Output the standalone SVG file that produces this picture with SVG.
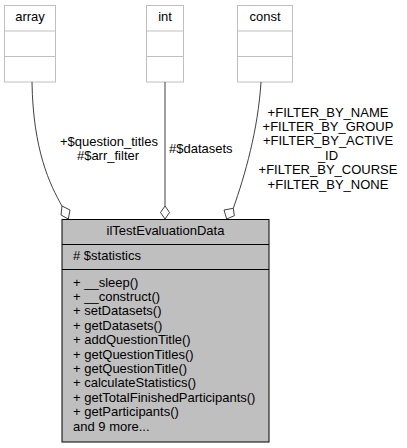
<svg xmlns="http://www.w3.org/2000/svg" width="407" height="448" viewBox="0 0 407 448">
<style>
text{font-family:"Liberation Sans",Arial,Helvetica,sans-serif;font-size:13px;fill:#000}
.m{text-anchor:middle}
.small{fill:#fff;stroke:#bfbfbf;stroke-width:1}
.main{fill:#bfbfbf;stroke:#000;stroke-width:1}
.sep{stroke:#bfbfbf;stroke-width:1}
.msep{stroke:#000;stroke-width:1}
.edge{fill:none;stroke:#404040;stroke-width:1}
.dia{fill:#fff;stroke:#404040;stroke-width:1}
</style>
<rect width="407" height="448" fill="#fff"/>
<g id="node-array">
<rect class="small" x="4.5" y="5.5" width="51" height="76.5"/>
<line class="sep" x1="4.5" y1="31" x2="55.5" y2="31"/>
<line class="sep" x1="4.5" y1="56.5" x2="55.5" y2="56.5"/>
<text class="m" x="30" y="21">array</text>
</g>
<g id="node-int">
<rect class="small" x="146.5" y="5.5" width="37" height="76.5"/>
<line class="sep" x1="146.5" y1="31" x2="183.5" y2="31"/>
<line class="sep" x1="146.5" y1="56.5" x2="183.5" y2="56.5"/>
<text class="m" x="165" y="21">int</text>
</g>
<g id="node-const">
<rect class="small" x="237.5" y="5.5" width="55" height="76.5"/>
<line class="sep" x1="237.5" y1="31" x2="292.5" y2="31"/>
<line class="sep" x1="237.5" y1="56.5" x2="292.5" y2="56.5"/>
<text class="m" x="265" y="21">const</text>
</g>
<g id="connectors">
<path class="edge" d="M32,82 C33,150 50,185 62,206"/>
<polygon class="dia" points="62,206 70,210 68.3,219 61,215"/>
<path class="edge" d="M165,82 L165,206"/>
<polygon class="dia" points="165,206 169.5,212.5 165,219 160.5,212.5"/>
<path class="edge" d="M261,82 C258,130 245,175 233.3,208.3"/>
<polygon class="dia" points="233.3,208.3 224,210 226.7,219 234.3,215.7"/>
<text class="m" x="109" y="146">+$question_titles</text>
<text class="m" x="108" y="160.4">#$arr_filter</text>
<text x="169" y="153">#$datasets</text>
<text class="m" x="328" y="116.5">+FILTER_BY_NAME</text>
<text class="m" x="328" y="130.9">+FILTER_BY_GROUP</text>
<text class="m" x="328" y="145.3">+FILTER_BY_ACTIVE</text>
<text class="m" x="328" y="159.7">_ID</text>
<text class="m" x="328" y="174.1">+FILTER_BY_COURSE</text>
<text class="m" x="328" y="188.5">+FILTER_BY_NONE</text>
</g>
<g id="node-ilTestEvaluationData">
<rect class="main" x="62" y="219.5" width="207" height="222.5"/>
<line class="msep" x1="62" y1="244.5" x2="269" y2="244.5"/>
<line class="msep" x1="62" y1="269.5" x2="269" y2="269.5"/>
<text class="m" x="165.5" y="234.5">ilTestEvaluationData</text>
<text x="73" y="260">#  $statistics</text>
<text x="73" y="286.5">+  __sleep()</text>
<text x="73" y="300.9">+  __construct()</text>
<text x="73" y="315.3">+  setDatasets()</text>
<text x="73" y="329.7">+  getDatasets()</text>
<text x="73" y="344.1">+  addQuestionTitle()</text>
<text x="73" y="358.5">+  getQuestionTitles()</text>
<text x="73" y="372.9">+  getQuestionTitle()</text>
<text x="73" y="387.3">+  calculateStatistics()</text>
<text x="73" y="401.7">+  getTotalFinishedParticipants()</text>
<text x="73" y="416.1">+  getParticipants()</text>
<text x="73" y="430.5">and 9 more...</text>
</g>
</svg>
